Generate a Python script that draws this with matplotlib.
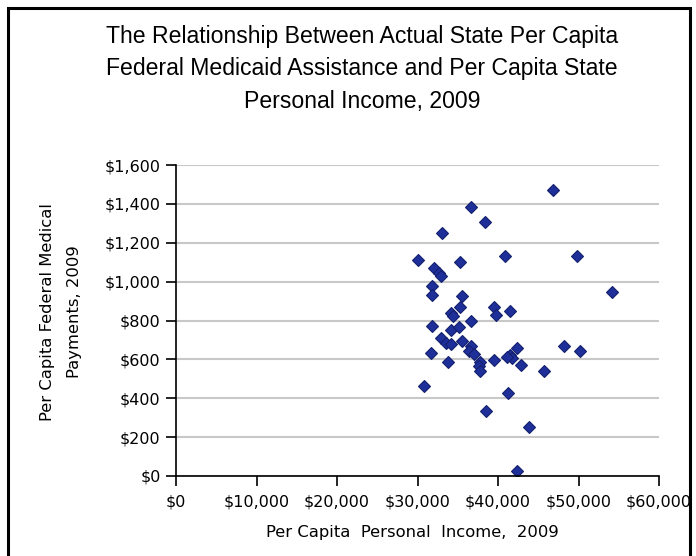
import numpy as np
import matplotlib.pyplot as plt
from matplotlib.patches import Rectangle
from matplotlib.ticker import FuncFormatter

# per capita personal income (dollars) and per capita federal Medicaid payments (dollars), 2009
income = [46800, 36600, 38400, 33000, 30000, 35300, 40900, 49800, 32100, 32700,
          32900, 31800, 31800, 35500, 35300, 34100, 34400, 36600, 39500, 39800,
          41500, 31800, 34100, 35200, 32900, 33500, 34100, 35500, 36600, 36400,
          37000, 31700, 33800, 37800, 37700, 37800, 39500, 42300, 41500, 41800,
          41100, 42800, 45700, 48200, 50200, 30800, 41200, 38500, 43800, 42400,
          54200]
medicaid = [1469, 1385, 1308, 1251, 1113, 1101, 1134, 1134, 1070, 1045,
            1031, 979, 933, 924, 867, 838, 821, 800, 867, 830,
            850, 773, 750, 765, 710, 684, 680, 692, 667, 641,
            626, 634, 587, 589, 564, 542, 598, 658, 620, 607,
            613, 570, 541, 667, 644, 464, 429, 332, 251, 27,
            945]

x_ticks = [0, 10000, 20000, 30000, 40000, 50000, 60000]
y_ticks = [0, 200, 400, 600, 800, 1000, 1200, 1400, 1600]

title = ("The Relationship Between Actual State Per Capita\n"
         "Federal Medicaid Assistance and Per Capita State\n"
         "Personal Income, 2009")

fig = plt.figure(figsize=(6.96, 5.56), dpi=100)
ax = fig.add_axes([176 / 696, 80 / 556, 483 / 696, 311 / 556])

ax.yaxis.grid(True, color='#c8c8c8', linewidth=1.5)
ax.set_axisbelow(True)
ax.plot(income, medicaid, linestyle='none', marker='D', markersize=6,
        color='#1f2f99', markeredgecolor='#13206e', markeredgewidth=0.8)

ax.set_xlim(0, 60000)
ax.set_ylim(0, 1600)
ax.set_xticks(x_ticks)
ax.set_yticks(y_ticks)
money = FuncFormatter(lambda v, pos: '${:,.0f}'.format(v))
ax.xaxis.set_major_formatter(money)
ax.yaxis.set_major_formatter(money)

for side in ['top', 'right']:
    ax.spines[side].set_visible(False)
for side in ['left', 'bottom']:
    ax.spines[side].set_linewidth(1.2)
ax.tick_params(axis='both', direction='out', length=7, width=1.2,
               labelsize=11.5, colors='black')
ax.tick_params(axis='y', pad=4)
ax.tick_params(axis='x', pad=6)
for lab in ax.get_xticklabels() + ax.get_yticklabels():
    lab.set_family('DejaVu Sans')

fig.text(0.52, 1 - 69 / 556, title, ha='center', va='center', fontsize=16.6,
         family='Liberation Sans', linespacing=1.55)
fig.text(412 / 696, 1 - 532 / 556, 'Per Capita  Personal  Income,  2009',
         ha='center', va='center', fontsize=11.8, family='DejaVu Sans')
fig.text(61 / 696, 1 - 312 / 556, 'Per Capita Federal Medical\nPayments, 2009',
         ha='center', va='center', rotation=90, fontsize=11.8,
         family='DejaVu Sans', linespacing=1.95)

fig.patches.append(Rectangle((8 / 696, -0.01), 682 / 696, 1 - 8 / 556 + 0.01,
                             transform=fig.transFigure, fill=False,
                             edgecolor='black', linewidth=2.2))

fig.savefig('out.png', dpi=100)
